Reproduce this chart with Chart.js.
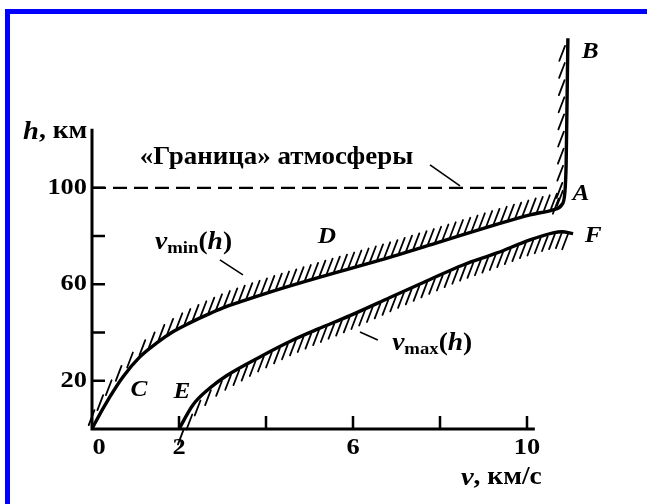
<!DOCTYPE html>
<html>
<head>
<meta charset="utf-8">
<script src="https://cdn.jsdelivr.net/npm/chart.js@4.4.1/dist/chart.umd.min.js"></script>
<style>
  html, body { margin: 0; padding: 0; background: #fff; }
  body { width: 647px; height: 504px; position: relative; overflow: hidden; }
  #wrap { position: absolute; left: 0; top: 0; width: 647px; height: 504px; }
  #frame {
    position: absolute; left: 5px; top: 9px; width: 700px; height: 600px;
    border: 5px solid #0000ff; box-sizing: border-box; pointer-events: none;
  }
</style>
</head>
<body>
<div id="wrap"><canvas id="chart" width="647" height="504"></canvas></div>
<div id="frame"></div>
<script>
// speed v (km/s) and height h (km)
const vMinV = [0, 0.07, 0.41, 0.71, 1.10, 1.49, 1.86, 2.25, 2.64, 3.01, 3.40, 4.09, 5.24, 6.62, 8.0, 9.15, 10.07, 10.6, 10.8, 10.87, 10.9, 10.92, 10.94];
const vMinH = [0, 2.5, 13.3, 21.6, 29.9, 35.7, 40.3, 44, 47.3, 50.2, 52.7, 56.8, 63, 70, 77.6, 84.0, 88.8, 90.9, 93, 98, 110, 135, 162];
const vMaxV = [2.0, 2.32, 2.71, 3.10, 3.86, 4.62, 5.2, 5.93, 6.85, 7.77, 8.53, 9.31, 10.07, 10.6, 10.8, 11.06];
const vMaxH = [0, 10.0, 17.0, 22.2, 29.9, 36.9, 41.5, 47, 54.5, 62.0, 68.0, 73, 78.4, 81.3, 81.8, 81.0];
const boundaryV = [0, 10.46];
const boundaryH = [100, 100];

const xTicks = [0, 2, 4, 6, 8, 10];
const xTickLabels = ['0', '2', '', '6', '', '10'];
const yTicks = [20, 40, 60, 80, 100];
const yTickLabels = ['20', '', '60', '', '100'];

const pointNames = ['B', 'A', 'F', 'D', 'C', 'E'];
const pointNameV = [11.45, 11.24, 11.52, 5.40, 1.08, 2.07];
const pointNameH = [156.4, 97.5, 80.1, 79.7, 16.2, 15.4];

const toXY = (xs, ys) => xs.map((x, i) => ({ x, y: ys[i] }));

const SERIF = "'Liberation Serif', 'DejaVu Serif', serif";
const STRETCH = 1.1; // the lettering is a bit wider than plain Times

// short strokes along a curve, on one side of it
function drawHatch(ctx, pts, side) {
  const ang = 69 * Math.PI / 180;
  const d = { x: Math.cos(ang), y: -Math.sin(ang) };
  const len = 16;
  const gap = 6;
  let carry = 2;
  ctx.beginPath();
  for (let i = 0; i < pts.length - 1; i++) {
    const a = pts[i];
    const b = pts[i + 1];
    const segLen = Math.hypot(b.x - a.x, b.y - a.y);
    if (!segLen) continue;
    const t = { x: (b.x - a.x) / segLen, y: (b.y - a.y) / segLen };
    const n = side > 0 ? { x: t.y, y: -t.x } : { x: -t.y, y: t.x };
    const dot = d.x * n.x + d.y * n.y;
    const s = dot >= 0 ? 1 : -1;
    const sinA = Math.abs(t.x * d.y - t.y * d.x);
    const step = gap / Math.max(sinA, 0.35);
    const off = 1.5 + 8 * Math.max(0, 0.5 - Math.abs(dot));
    let pos = carry;
    while (pos <= segLen) {
      const px = a.x + t.x * pos + n.x * off;
      const py = a.y + t.y * pos + n.y * off;
      ctx.moveTo(px, py);
      ctx.lineTo(px + s * d.x * len, py + s * d.y * len);
      pos += step;
    }
    carry = pos - segLen;
  }
  ctx.stroke();
}

// text made of several font runs, slightly widened
function drawRuns(ctx, runs, x, y, align) {
  let total = 0;
  runs.forEach((r) => { ctx.font = r.font; r.w = ctx.measureText(r.text).width; total += r.w; });
  let cx = 0;
  if (align === 'right') cx = -total;
  else if (align === 'center') cx = -total / 2;
  ctx.save();
  ctx.translate(x, y);
  ctx.scale(STRETCH, 1);
  ctx.textAlign = 'left';
  runs.forEach((r) => { ctx.font = r.font; ctx.fillText(r.text, cx, r.dy || 0); cx += r.w; });
  ctx.restore();
}

const hatchPlugin = {
  id: 'hatch',
  afterDatasetsDraw(chart) {
    const ctx = chart.ctx;
    ctx.save();
    ctx.strokeStyle = '#000';
    ctx.lineWidth = 1.8;
    ctx.lineCap = 'round';
    chart.data.datasets.forEach((ds, i) => {
      if (!ds.hatchSide) return;
      const pts = chart.getDatasetMeta(i).data.map((p) => ({ x: p.x, y: p.y }));
      drawHatch(ctx, pts, ds.hatchSide);
    });
    ctx.restore();
  }
};

const axesPlugin = {
  id: 'axes',
  afterDatasetsDraw(chart) {
    const { ctx, scales: { x, y } } = chart;
    const x0 = x.getPixelForValue(0);
    const y0 = y.getPixelForValue(0);
    ctx.save();
    ctx.strokeStyle = '#000';
    ctx.fillStyle = '#000';
    ctx.lineWidth = 3;
    ctx.beginPath();
    ctx.moveTo(x0, y0 + 1.5);
    ctx.lineTo(x0, y.getPixelForValue(124.5));
    ctx.moveTo(x0 - 1.5, y0);
    ctx.lineTo(x.getPixelForValue(10.18), y0);
    ctx.stroke();

    ctx.lineWidth = 2.5;
    ctx.beginPath();
    xTicks.forEach((v) => {
      if (v === 0) return;
      const px = x.getPixelForValue(v);
      ctx.moveTo(px, y0);
      ctx.lineTo(px, y0 - 13);
    });
    yTicks.forEach((v) => {
      const py = y.getPixelForValue(v);
      ctx.moveTo(x0, py);
      ctx.lineTo(x0 + 13, py);
    });
    ctx.stroke();

    const tickFont = `bold 24px ${SERIF}`;
    ctx.textBaseline = 'middle';
    xTicks.forEach((v, i) => {
      if (!xTickLabels[i]) return;
      drawRuns(ctx, [{ text: xTickLabels[i], font: tickFont }], x.getPixelForValue(v) + (v === 0 ? 7 : 0), y0 + 19, 'center');
    });
    yTicks.forEach((v, i) => {
      if (!yTickLabels[i]) return;
      drawRuns(ctx, [{ text: yTickLabels[i], font: tickFont }], x0 - 5, y.getPixelForValue(v), 'right');
    });

    drawRuns(ctx, [
      { text: 'h', font: `italic bold 26px ${SERIF}` },
      { text: ', км', font: `bold 25px ${SERIF}` }
    ], x.getPixelForValue(-0.11), y.getPixelForValue(123.2), 'right');
    drawRuns(ctx, [
      { text: 'v', font: `italic bold 26px ${SERIF}` },
      { text: ', км/с', font: `bold 25px ${SERIF}` }
    ], x.getPixelForValue(10.34), y.getPixelForValue(-20.3), 'right');
    ctx.restore();
  }
};

const labelsPlugin = {
  id: 'labels',
  afterDatasetsDraw(chart) {
    const { ctx, scales: { x, y } } = chart;
    ctx.save();
    ctx.fillStyle = '#000';
    ctx.strokeStyle = '#000';

    // leader lines
    ctx.lineWidth = 1.6;
    ctx.beginPath();
    [[2.94, 70.1, 3.47, 63.9], [6.16, 40.2, 6.57, 36.9], [7.77, 109.5, 8.46, 100.8]].forEach(([a, b, c, d]) => {
      ctx.moveTo(x.getPixelForValue(a), y.getPixelForValue(b));
      ctx.lineTo(x.getPixelForValue(c), y.getPixelForValue(d));
    });
    ctx.stroke();

    ctx.textBaseline = 'middle';
    pointNames.forEach((name, i) => {
      drawRuns(ctx, [{ text: name, font: `italic bold 23px ${SERIF}` }],
        x.getPixelForValue(pointNameV[i]), y.getPixelForValue(pointNameH[i]), 'center');
    });

    drawRuns(ctx, [{ text: '«Граница» атмосферы', font: `bold 24.5px ${SERIF}` }],
      x.getPixelForValue(1.10), y.getPixelForValue(112.4), 'left');

    ctx.textBaseline = 'alphabetic';
    const curveLabel = (sub) => [
      { text: 'v', font: `italic bold 25px ${SERIF}` },
      { text: sub, font: `bold 17px ${SERIF}`, dy: 4 },
      { text: '(', font: `bold 25px ${SERIF}` },
      { text: 'h', font: `italic bold 25px ${SERIF}` },
      { text: ')', font: `bold 25px ${SERIF}` }
    ];
    drawRuns(ctx, curveLabel('min'), x.getPixelForValue(1.45), y.getPixelForValue(74.7), 'left');
    drawRuns(ctx, curveLabel('max'), x.getPixelForValue(6.90), y.getPixelForValue(32.8), 'left');
    ctx.restore();
  }
};

new Chart(document.getElementById('chart'), {
  type: 'scatter',
  data: {
    datasets: [
      {
        label: 'vmin',
        data: toXY(vMinV, vMinH),
        showLine: true,
        borderColor: '#000',
        borderWidth: 3.4,
        pointRadius: 0,
        cubicInterpolationMode: 'monotone',
        hatchSide: 1
      },
      {
        label: 'vmax',
        data: toXY(vMaxV, vMaxH),
        showLine: true,
        borderColor: '#000',
        borderWidth: 3.4,
        pointRadius: 0,
        cubicInterpolationMode: 'monotone',
        hatchSide: -1
      },
      {
        label: 'boundary',
        data: toXY(boundaryV, boundaryH),
        showLine: true,
        borderColor: '#000',
        borderWidth: 2.2,
        borderDash: [14, 7],
        pointRadius: 0
      }
    ]
  },
  options: {
    responsive: false,
    animation: false,
    devicePixelRatio: 1,
    layout: { padding: { left: 92, right: 33, top: 19, bottom: 75 } },
    plugins: { legend: { display: false }, tooltip: { enabled: false } },
    scales: {
      x: { type: 'linear', min: 0, max: 12, display: false },
      y: { type: 'linear', min: 0, max: 170, display: false }
    }
  },
  plugins: [hatchPlugin, axesPlugin, labelsPlugin]
});
</script>
</body>
</html>
